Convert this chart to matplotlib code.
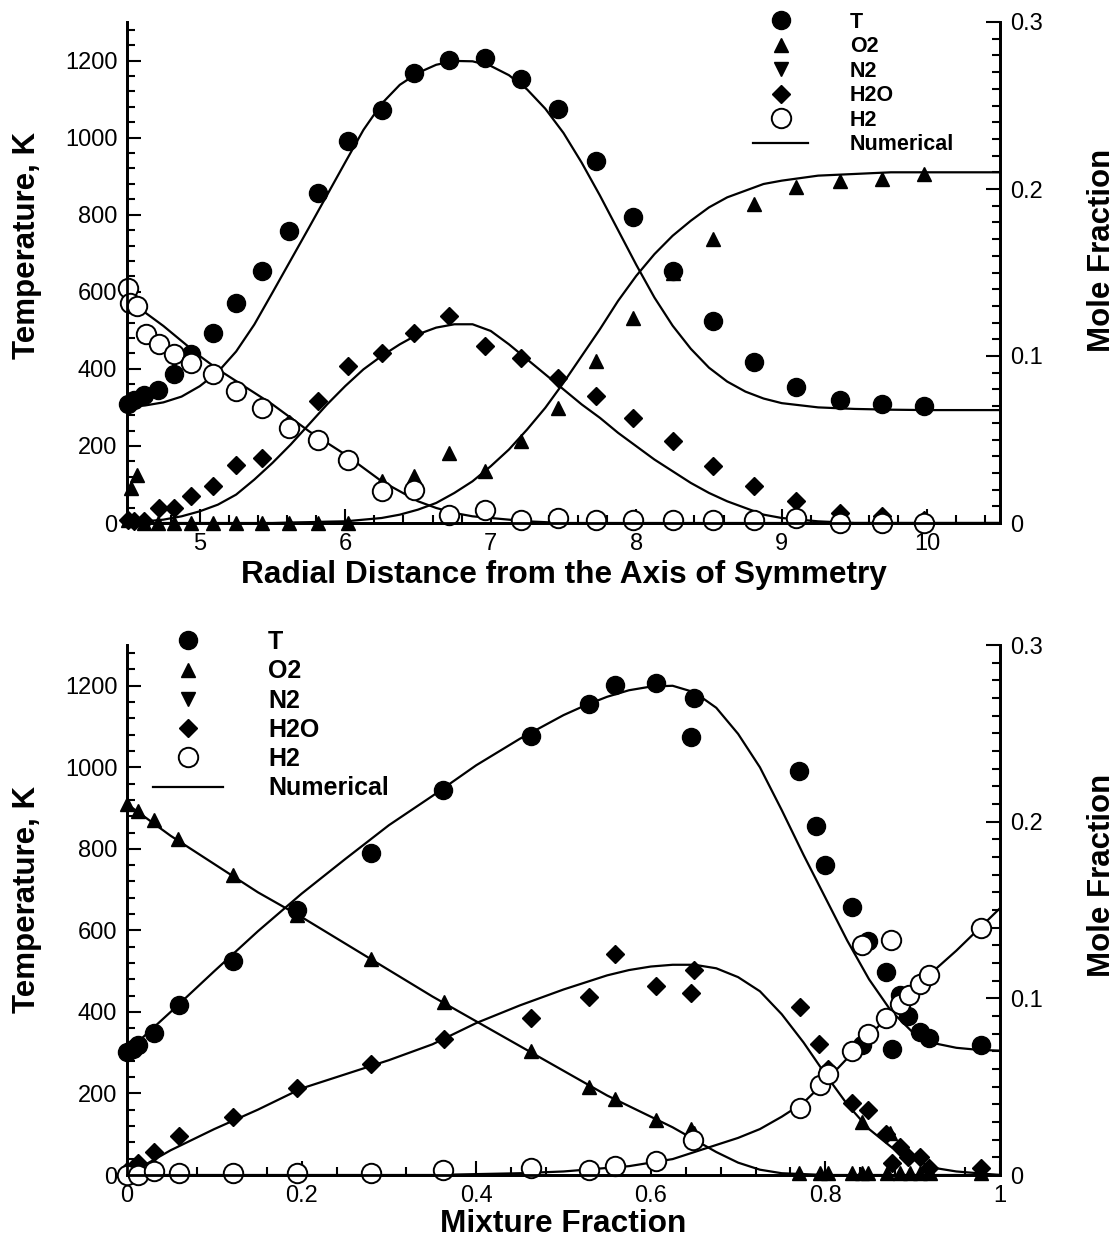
import matplotlib
matplotlib.use("Agg")
import matplotlib.pyplot as plt
from matplotlib.lines import Line2D
from matplotlib.ticker import MultipleLocator, FixedLocator

plt.rcParams['font.family'] = ['Liberation Sans', 'DejaVu Sans']

# ----------------------------------------
# top panel: radial profiles (measured)
# ----------------------------------------
r_T = [4.51, 4.55, 4.62, 4.71, 4.82, 4.94, 5.09, 5.25, 5.43, 5.61, 5.81, 6.02, 6.25, 6.47,
       6.71, 6.96, 7.21, 7.46, 7.72, 7.98, 8.25, 8.53, 8.81, 9.10, 9.40, 9.69, 9.98]
T_r = [310, 319, 333, 346, 386, 439, 494, 570, 655, 758, 856, 991, 1072, 1168,
       1202, 1206, 1153, 1074, 939, 795, 655, 525, 417, 352, 320, 310, 303]

r_O2 = [4.51, 4.53, 4.57, 4.62, 4.71, 4.82, 4.94, 5.09, 5.25, 5.43, 5.61, 5.81, 6.02, 6.25,
        6.47, 6.71, 6.96, 7.21, 7.46, 7.72, 7.98, 8.25, 8.53, 8.81, 9.10, 9.40, 9.69, 9.98]
O2_r = [0.002, 0.021, 0.029, 0.0, 0.0, 0.0, 0.0, 0.0, 0.0, 0.0, 0.0, 0.0, 0.0, 0.025,
        0.028, 0.042, 0.031, 0.049, 0.069, 0.097, 0.123, 0.150, 0.170, 0.191, 0.201, 0.205, 0.206, 0.209]

r_H2O = [4.51, 4.55, 4.62, 4.72, 4.82, 4.94, 5.09, 5.25, 5.43, 5.61, 5.81, 6.02, 6.25, 6.47,
         6.71, 6.96, 7.21, 7.46, 7.72, 7.98, 8.25, 8.53, 8.81, 9.10, 9.40, 9.69, 9.98]
H2O_r = [0.002, 0.001, 0.001, 0.009, 0.009, 0.016, 0.022, 0.035, 0.039, 0.059, 0.073, 0.094, 0.102, 0.114,
         0.124, 0.106, 0.099, 0.087, 0.076, 0.063, 0.049, 0.034, 0.022, 0.013, 0.006, 0.004, 0.002]

r_H2 = [4.51, 4.52, 4.57, 4.63, 4.72, 4.82, 4.94, 5.09, 5.25, 5.43, 5.61, 5.81, 6.02, 6.25,
        6.47, 6.71, 6.96, 7.21, 7.46, 7.72, 7.98, 8.25, 8.53, 8.81, 9.10, 9.40, 9.69, 9.98]
H2_r = [0.141, 0.132, 0.130, 0.113, 0.107, 0.101, 0.096, 0.089, 0.079, 0.069, 0.057, 0.050, 0.038, 0.019,
        0.020, 0.005, 0.008, 0.002, 0.003, 0.002, 0.002, 0.002, 0.002, 0.002, 0.003, 0.0, 0.0, 0.0]

# numerical solution, radial
r_num = [4.5, 4.625, 4.75, 4.875, 5.0, 5.125, 5.25, 5.375, 5.5, 5.625, 5.75, 5.875, 6.0, 6.125,
         6.25, 6.375, 6.5, 6.625, 6.75, 6.875, 7.0, 7.125, 7.25, 7.375, 7.5, 7.625, 7.75, 7.875,
         8.0, 8.125, 8.25, 8.375, 8.5, 8.625, 8.75, 8.875, 9.0, 9.25, 9.5, 9.75, 10.0, 10.5]
T_r_num = [300, 305, 313, 328, 355, 392, 445, 515, 598, 682, 766, 851, 936, 1020,
           1088, 1137, 1168, 1189, 1199, 1198, 1186, 1162, 1125, 1075, 1012, 935, 850, 760,
           670, 585, 512, 452, 403, 367, 341, 323, 311, 300, 296, 294, 293, 293]
O2_r_num = [0.0, 0.0, 0.0, 0.0, 0.0, 0.0, 0.0, 0.0, 0.0, 0.0003, 0.0005, 0.0008, 0.001, 0.002,
            0.003, 0.005, 0.008, 0.012, 0.018, 0.025, 0.034, 0.044, 0.056, 0.069, 0.084, 0.100, 0.116, 0.133,
            0.148, 0.161, 0.172, 0.181, 0.189, 0.195, 0.199, 0.203, 0.205, 0.208, 0.209, 0.21, 0.21, 0.21]
H2O_r_num = [0.0, 0.001, 0.002, 0.004, 0.007, 0.011, 0.017, 0.026, 0.036, 0.047, 0.059, 0.071, 0.082, 0.092,
             0.100, 0.107, 0.113, 0.117, 0.119, 0.119, 0.115, 0.107, 0.098, 0.089, 0.080, 0.071, 0.063, 0.054,
             0.046, 0.038, 0.031, 0.024, 0.018, 0.013, 0.009, 0.005, 0.003, 0.001, 0.0, 0.0, 0.0, 0.0]
H2_r_num = [0.133, 0.126, 0.118, 0.109, 0.100, 0.092, 0.085, 0.078, 0.071, 0.063, 0.055, 0.048, 0.041, 0.033,
            0.025, 0.019, 0.013, 0.009, 0.006, 0.004, 0.003, 0.002, 0.001, 0.0005, 0.0, 0.0, 0.0, 0.0,
            0.0, 0.0, 0.0, 0.0, 0.0, 0.0, 0.0, 0.0, 0.0, 0.0, 0.0, 0.0, 0.0, 0.0]

# ----------------------------------------
# bottom panel: mixture fraction (measured)
# ----------------------------------------
f_T = [0.0, 0.007, 0.013, 0.031, 0.059, 0.121, 0.195, 0.279, 0.362, 0.463, 0.529, 0.559, 0.606, 0.646,
       0.650, 0.770, 0.789, 0.800, 0.830, 0.842, 0.849, 0.869, 0.876, 0.885, 0.895, 0.908, 0.919, 0.978]
T_f = [302, 310, 318, 349, 416, 524, 651, 789, 944, 1078, 1155, 1203, 1206, 1074,
       1170, 992, 856, 760, 657, 318, 573, 498, 308, 441, 389, 351, 337, 318]

f_O2 = [0.0, 0.013, 0.031, 0.058, 0.121, 0.195, 0.279, 0.363, 0.463, 0.529, 0.559, 0.606, 0.646, 0.650,
        0.770, 0.794, 0.803, 0.830, 0.842, 0.842, 0.849, 0.870, 0.874, 0.885, 0.897, 0.908, 0.920, 0.978]
O2_f = [0.210, 0.206, 0.201, 0.190, 0.170, 0.147, 0.122, 0.098, 0.070, 0.050, 0.043, 0.031, 0.026, 0.024,
        0.001, 0.001, 0.001, 0.001, 0.001, 0.030, 0.001, 0.001, 0.024, 0.001, 0.001, 0.001, 0.001, 0.001]

f_H2O = [0.0, 0.013, 0.031, 0.059, 0.121, 0.195, 0.279, 0.363, 0.463, 0.529, 0.559, 0.606, 0.646, 0.650,
         0.771, 0.793, 0.803, 0.830, 0.849, 0.869, 0.876, 0.885, 0.895, 0.908, 0.919, 0.978]
H2O_f = [0.002, 0.007, 0.013, 0.022, 0.033, 0.049, 0.063, 0.077, 0.089, 0.101, 0.125, 0.107, 0.103, 0.116,
         0.095, 0.074, 0.060, 0.041, 0.037, 0.023, 0.007, 0.016, 0.010, 0.010, 0.004, 0.004]

f_H2 = [0.0, 0.013, 0.031, 0.059, 0.121, 0.195, 0.279, 0.362, 0.463, 0.529, 0.559, 0.606, 0.648,
        0.771, 0.794, 0.803, 0.830, 0.842, 0.849, 0.869, 0.875, 0.885, 0.896, 0.908, 0.919, 0.978]
H2_f = [0.0, 0.0, 0.002, 0.001, 0.001, 0.001, 0.001, 0.003, 0.004, 0.003, 0.005, 0.008, 0.020,
        0.038, 0.051, 0.057, 0.070, 0.130, 0.080, 0.089, 0.133, 0.097, 0.102, 0.108, 0.113, 0.140]

# numerical solution, mixture fraction space
f_num = [0.0, 0.05, 0.1, 0.15, 0.2, 0.25, 0.3, 0.35, 0.4, 0.45, 0.5, 0.525, 0.55, 0.575, 0.6, 0.625,
         0.65, 0.675, 0.7, 0.725, 0.75, 0.775, 0.8, 0.825, 0.85, 0.875, 0.9, 0.925, 0.95, 0.975, 1.0]
T_f_num = [302, 400, 500, 598, 690, 775, 858, 930, 1005, 1070, 1128, 1152, 1173, 1189, 1198, 1200,
           1184, 1146, 1082, 1000, 895, 785, 680, 575, 480, 403, 350, 323, 312, 307, 305]
O2_f_num = [0.210, 0.192, 0.176, 0.160, 0.146, 0.131, 0.116, 0.101, 0.087, 0.073, 0.059, 0.052, 0.045, 0.039,
            0.033, 0.027, 0.020, 0.013, 0.007, 0.003, 0.001, 0.0005, 0.0, 0.0, 0.0, 0.0, 0.0, 0.0, 0.0, 0.0, 0.0]
H2O_f_num = [0.0, 0.014, 0.026, 0.037, 0.049, 0.057, 0.065, 0.074, 0.086, 0.096, 0.105, 0.109, 0.113, 0.116,
             0.118, 0.119, 0.119, 0.117, 0.112, 0.104, 0.091, 0.075, 0.057, 0.040, 0.026, 0.016, 0.009, 0.004,
             0.002, 0.001, 0.0]
H2_f_num = [0.0, 0.0, 0.0, 0.0, 0.0, 0.0, 0.0, 0.0, 0.0005, 0.001, 0.002, 0.003, 0.004, 0.005, 0.007, 0.009,
            0.013, 0.017, 0.021, 0.026, 0.033, 0.041, 0.053, 0.066, 0.079, 0.091, 0.104, 0.116, 0.127, 0.139, 0.151]

# ----------------------------------------
# figure layout (pixels -> figure fraction)
# ----------------------------------------
W, H = 1120, 1241
fig = plt.figure(figsize=(W / 100, H / 100), dpi=100)
ax_top = fig.add_axes([127 / W, 1 - 523 / H, 873 / W, 501 / H])
ax_bot = fig.add_axes([127 / W, 1 - 1175 / H, 873 / W, 530 / H])

LW = 1.6
mk = dict(color='black', linestyle='none', clip_on=False)
sty_T = dict(marker='o', markersize=13, **mk)
sty_O2 = dict(marker='^', markersize=10, **mk)
sty_N2 = dict(marker='v', markersize=10, **mk)
sty_H2O = dict(marker='D', markersize=9, **mk)
sty_H2 = dict(marker='o', markersize=14, markerfacecolor='white', markeredgewidth=1.4, **mk)


def style_axes(ax, axr, ylab_y, mlab_y):
    ax.set_ylim(0, 1300)
    axr.set_ylim(0, 0.3)
    ax.yaxis.set_major_locator(FixedLocator([0, 200, 400, 600, 800, 1000, 1200]))
    ax.yaxis.set_minor_locator(MultipleLocator(40))
    axr.yaxis.set_major_locator(FixedLocator([0, 0.1, 0.2, 0.3]))
    axr.yaxis.set_minor_locator(MultipleLocator(0.01))
    axr.set_yticklabels(['0', '0.1', '0.2', '0.3'])
    for a in (ax, axr):
        a.spines['top'].set_visible(False)
        for s in a.spines.values():
            s.set_linewidth(2.0)
        a.tick_params(which='both', direction='in', width=1.5, labelsize=17, pad=7)
        a.tick_params(which='major', length=10)
        a.tick_params(which='minor', length=6)
    axr.tick_params(axis='y', which='both', left=False, right=True)
    ax.tick_params(axis='y', which='both', right=False)
    ax.set_ylabel('Temperature, K', fontsize=22.5, fontweight='bold')
    axr.set_ylabel('Mole Fraction', fontsize=22.5, fontweight='bold')
    ax.yaxis.set_label_coords(-0.097, ylab_y)
    axr.yaxis.set_label_coords(1.100, mlab_y)


def add_legend(axr, anchor, size, hlen, hpad, spacing):
    handles = [
        Line2D([], [], **sty_T),
        Line2D([], [], **sty_O2),
        Line2D([], [], **sty_N2),
        Line2D([], [], **sty_H2O),
        Line2D([], [], **sty_H2),
        Line2D([], [], color='black', lw=LW),
    ]
    labels = ['T', 'O2', 'N2', 'H2O', 'H2', 'Numerical']
    axr.legend(handles, labels, loc='upper left', bbox_to_anchor=anchor,
               bbox_transform=fig.transFigure, frameon=False, borderpad=0,
               borderaxespad=0, handlelength=hlen, handletextpad=hpad,
               labelspacing=spacing, prop={'weight': 'bold', 'size': size})


# ---- top: radial distance ----
ax_topr = ax_top.twinx()
style_axes(ax_top, ax_topr, 0.555, 0.545)
ax_top.set_xlim(4.5, 10.5)
ax_top.xaxis.set_major_locator(FixedLocator([5, 6, 7, 8, 9, 10]))
ax_top.xaxis.set_minor_locator(MultipleLocator(0.2))
ax_top.set_xlabel('Radial Distance from the Axis of Symmetry', fontsize=22.8,
                  fontweight='bold', labelpad=4)

ax_top.plot(r_num, T_r_num, color='black', lw=LW)
ax_top.plot(r_T, T_r, **sty_T)
ax_topr.plot(r_num, O2_r_num, color='black', lw=LW)
ax_topr.plot(r_num, H2O_r_num, color='black', lw=LW)
ax_topr.plot(r_num, H2_r_num, color='black', lw=LW)
ax_topr.plot(r_O2, O2_r, **sty_O2)
ax_topr.plot(r_H2O, H2O_r, **sty_H2O)
ax_topr.plot(r_H2, H2_r, **sty_H2)
add_legend(ax_topr, (753 / W, 1 - 12 / H), 15.5, 2.56, 1.93, 0.16)

# ---- bottom: mixture fraction ----
ax_botr = ax_bot.twinx()
style_axes(ax_bot, ax_botr, 0.52, 0.565)
ax_bot.set_xlim(0, 1)
ax_bot.xaxis.set_major_locator(FixedLocator([0, 0.2, 0.4, 0.6, 0.8, 1.0]))
ax_bot.xaxis.set_minor_locator(MultipleLocator(0.04))
ax_bot.set_xticklabels(['0', '0.2', '0.4', '0.6', '0.8', '1'])
ax_bot.set_xlabel('Mixture Fraction', fontsize=22.8, fontweight='bold', labelpad=2)

ax_bot.plot(f_num, T_f_num, color='black', lw=LW)
ax_bot.plot(f_T, T_f, **sty_T)
ax_botr.plot(f_num, O2_f_num, color='black', lw=LW)
ax_botr.plot(f_num, H2O_f_num, color='black', lw=LW)
ax_botr.plot(f_num, H2_f_num, color='black', lw=LW)
ax_botr.plot(f_O2, O2_f, **sty_O2)
ax_botr.plot(f_H2O, H2O_f, **sty_H2O)
ax_botr.plot(f_H2, H2_f, **sty_H2)
add_legend(ax_botr, (153 / W, 1 - 630 / H), 18, 2.8, 1.8, 0.21)

fig.savefig('out.png', dpi=100)
